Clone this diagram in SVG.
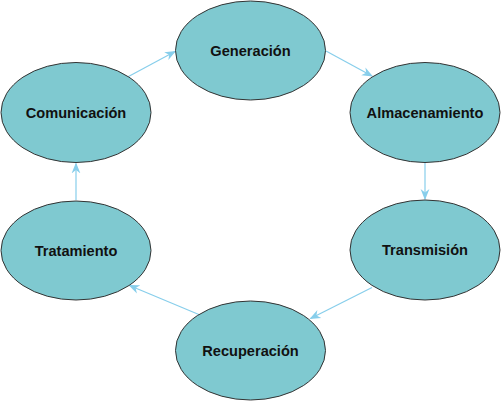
<svg xmlns="http://www.w3.org/2000/svg" width="502" height="402" viewBox="0 0 502 402">
<defs>
<style>
.node ellipse{fill:#7FC9D0;stroke:#333;stroke-width:1}
.node text{font-family:"Liberation Sans",Arial,sans-serif;font-weight:bold;font-size:14.6px;fill:#111;text-anchor:middle;dominant-baseline:central}
.edge{stroke:#87CEEB;stroke-width:1.2;fill:none;marker-end:url(#arr)}
</style>
<marker id="arr" viewBox="0 0 10 10" refX="9" refY="5" markerWidth="11" markerHeight="11" markerUnits="userSpaceOnUse" orient="auto">
<path d="M0,1 L10,5 L0,9 L3,5 Z" fill="#87CEEB"/>
</marker>
</defs>
<rect width="502" height="402" fill="#fff"/>
<g id="connectors">
<line class="edge" x1="128.5" y1="76.5" x2="175" y2="51.5"/>
<line class="edge" x1="326" y1="51" x2="372" y2="76"/>
<line class="edge" x1="425" y1="163" x2="425" y2="199"/>
<line class="edge" x1="372" y1="287.5" x2="310.5" y2="318.5"/>
<line class="edge" x1="200" y1="315" x2="129.5" y2="285.5"/>
<line class="edge" x1="76" y1="200" x2="76" y2="163.5"/>
</g>
<g id="generacion" class="node"><ellipse cx="250.5" cy="50.5" rx="75" ry="49.5"/><text x="250.5" y="50.5">Generación</text></g>
<g id="almacenamiento" class="node"><ellipse cx="425" cy="112.5" rx="75" ry="50"/><text x="425" y="112.5">Almacenamiento</text></g>
<g id="transmision" class="node"><ellipse cx="425" cy="250" rx="75" ry="50"/><text x="425" y="250">Transmisión</text></g>
<g id="recuperacion" class="node"><ellipse cx="250.5" cy="350.5" rx="75" ry="49.5"/><text x="250.5" y="350.5">Recuperación</text></g>
<g id="tratamiento" class="node"><ellipse cx="76" cy="250.5" rx="75" ry="49.5"/><text x="76" y="250.5">Tratamiento</text></g>
<g id="comunicacion" class="node"><ellipse cx="76" cy="112.5" rx="75" ry="50"/><text x="76" y="112.5">Comunicación</text></g>
</svg>
